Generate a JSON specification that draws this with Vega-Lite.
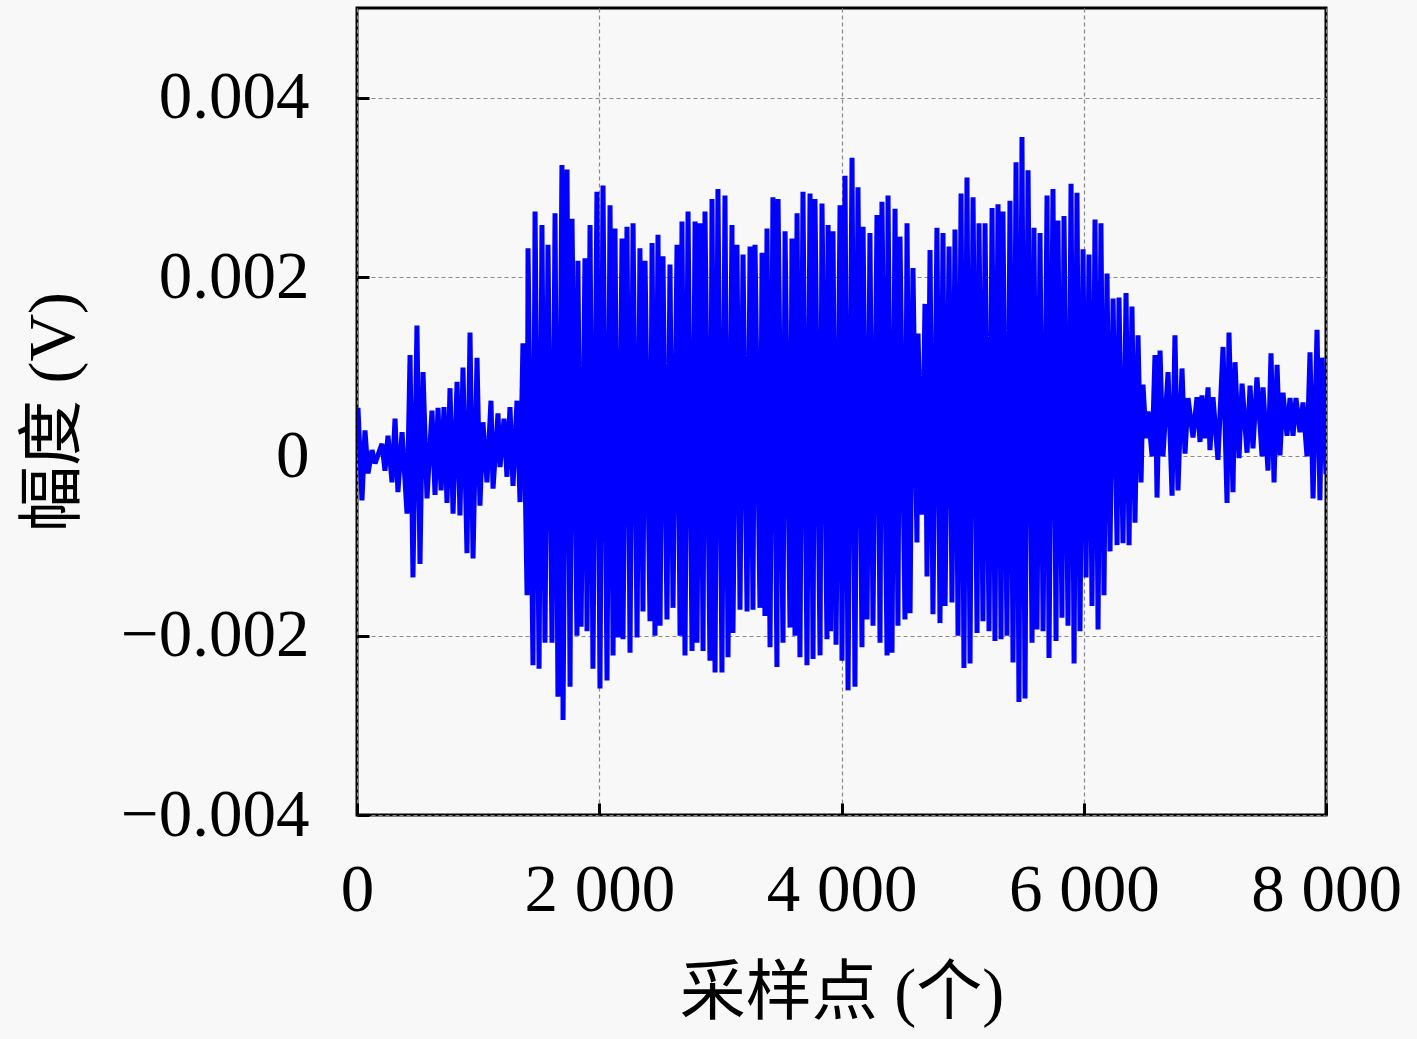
{
  "$schema": "https://vega.github.io/schema/vega-lite/v6.json",
  "width": 969,
  "height": 807,
  "autosize": "none",
  "padding": {"left": 357, "top": 8, "right": 91, "bottom": 224},
  "background": "#f8f8f8",
  "config": {
    "view": {"stroke": "#000000", "strokeWidth": 3},
    "axis": {
      "labelFont": "Liberation Serif",
      "labelFontSize": 67,
      "labelColor": "#000000",
      "labelLimit": 0,
      "titleFont": "Liberation Serif, Noto Sans CJK SC",
      "titleFontSize": 66,
      "titleFontWeight": "normal",
      "titleColor": "#000000",
      "domain": false,
      "tickColor": "#000000",
      "tickWidth": 3,
      "tickSize": -12,
      "gridColor": "#8a8a8a",
      "gridWidth": 1.2,
      "gridDash": [4, 3]
    }
  },
  "data": {
    "values": [
      {"sample": 0, "amplitude": 0.0004},
      {"sample": 8, "amplitude": 0.00054},
      {"sample": 41, "amplitude": -0.00049},
      {"sample": 66, "amplitude": 0.00029},
      {"sample": 91, "amplitude": -0.00019},
      {"sample": 124, "amplitude": 0.00007},
      {"sample": 149, "amplitude": -0.00008},
      {"sample": 206, "amplitude": 0.00014},
      {"sample": 231, "amplitude": -0.00016},
      {"sample": 256, "amplitude": 0.00023},
      {"sample": 289, "amplitude": -0.00029},
      {"sample": 314, "amplitude": 0.00042},
      {"sample": 338, "amplitude": -0.0004},
      {"sample": 372, "amplitude": 0.00027},
      {"sample": 413, "amplitude": -0.00064},
      {"sample": 438, "amplitude": 0.00113},
      {"sample": 462, "amplitude": -0.00135},
      {"sample": 495, "amplitude": 0.00146},
      {"sample": 520, "amplitude": -0.0012},
      {"sample": 545, "amplitude": 0.00094},
      {"sample": 578, "amplitude": -0.00047},
      {"sample": 619, "amplitude": 0.00051},
      {"sample": 644, "amplitude": -0.00043},
      {"sample": 669, "amplitude": 0.00054},
      {"sample": 694, "amplitude": -0.00038},
      {"sample": 718, "amplitude": 0.00055},
      {"sample": 743, "amplitude": -0.00052},
      {"sample": 768, "amplitude": 0.00076},
      {"sample": 793, "amplitude": -0.00064},
      {"sample": 826, "amplitude": 0.00083},
      {"sample": 850, "amplitude": -0.00066},
      {"sample": 875, "amplitude": 0.00099},
      {"sample": 908, "amplitude": -0.00108},
      {"sample": 933, "amplitude": 0.00138},
      {"sample": 958, "amplitude": -0.00114},
      {"sample": 991, "amplitude": 0.0011},
      {"sample": 1015, "amplitude": -0.00055},
      {"sample": 1040, "amplitude": 0.00038},
      {"sample": 1073, "amplitude": -0.00029},
      {"sample": 1106, "amplitude": 0.00062},
      {"sample": 1123, "amplitude": -0.00036},
      {"sample": 1164, "amplitude": 0.00048},
      {"sample": 1181, "amplitude": -0.00012},
      {"sample": 1214, "amplitude": 0.00042},
      {"sample": 1238, "amplitude": -0.00023},
      {"sample": 1263, "amplitude": 0.00055},
      {"sample": 1288, "amplitude": -0.00033},
      {"sample": 1321, "amplitude": 0.00062},
      {"sample": 1346, "amplitude": -0.00051},
      {"sample": 1370, "amplitude": 0.00126},
      {"sample": 1404, "amplitude": -0.00155},
      {"sample": 1412, "amplitude": 0.00232},
      {"sample": 1453, "amplitude": -0.00233},
      {"sample": 1470, "amplitude": 0.00273},
      {"sample": 1503, "amplitude": -0.00237},
      {"sample": 1527, "amplitude": 0.00258},
      {"sample": 1552, "amplitude": -0.00208},
      {"sample": 1577, "amplitude": 0.00236},
      {"sample": 1610, "amplitude": -0.00208},
      {"sample": 1635, "amplitude": 0.00271},
      {"sample": 1659, "amplitude": -0.00268},
      {"sample": 1692, "amplitude": 0.00325},
      {"sample": 1701, "amplitude": -0.00294},
      {"sample": 1734, "amplitude": 0.0032},
      {"sample": 1759, "amplitude": -0.00257},
      {"sample": 1775, "amplitude": 0.00265},
      {"sample": 1816, "amplitude": -0.002},
      {"sample": 1824, "amplitude": 0.00218},
      {"sample": 1850, "amplitude": -0.0019},
      {"sample": 1882, "amplitude": 0.00221},
      {"sample": 1899, "amplitude": -0.00195},
      {"sample": 1924, "amplitude": 0.00258},
      {"sample": 1948, "amplitude": -0.00237},
      {"sample": 1981, "amplitude": 0.00295},
      {"sample": 2006, "amplitude": -0.00259},
      {"sample": 2031, "amplitude": 0.00302},
      {"sample": 2064, "amplitude": -0.0025},
      {"sample": 2089, "amplitude": 0.0028},
      {"sample": 2114, "amplitude": -0.00222},
      {"sample": 2130, "amplitude": 0.00254},
      {"sample": 2155, "amplitude": -0.00202},
      {"sample": 2188, "amplitude": 0.00243},
      {"sample": 2196, "amplitude": -0.00204},
      {"sample": 2229, "amplitude": 0.00256},
      {"sample": 2254, "amplitude": -0.00219},
      {"sample": 2279, "amplitude": 0.0026},
      {"sample": 2312, "amplitude": -0.00202},
      {"sample": 2336, "amplitude": 0.00232},
      {"sample": 2361, "amplitude": -0.00173},
      {"sample": 2378, "amplitude": 0.00218},
      {"sample": 2419, "amplitude": -0.00184},
      {"sample": 2436, "amplitude": 0.00238},
      {"sample": 2460, "amplitude": -0.002},
      {"sample": 2485, "amplitude": 0.00247},
      {"sample": 2502, "amplitude": -0.00189},
      {"sample": 2526, "amplitude": 0.00223},
      {"sample": 2559, "amplitude": -0.00182},
      {"sample": 2584, "amplitude": 0.00214},
      {"sample": 2609, "amplitude": -0.00169},
      {"sample": 2642, "amplitude": 0.00236},
      {"sample": 2667, "amplitude": -0.002},
      {"sample": 2683, "amplitude": 0.00262},
      {"sample": 2708, "amplitude": -0.00222},
      {"sample": 2733, "amplitude": 0.00273},
      {"sample": 2766, "amplitude": -0.00217},
      {"sample": 2791, "amplitude": 0.00262},
      {"sample": 2807, "amplitude": -0.00208},
      {"sample": 2832, "amplitude": 0.0026},
      {"sample": 2857, "amplitude": -0.00217},
      {"sample": 2873, "amplitude": 0.00273},
      {"sample": 2914, "amplitude": -0.00228},
      {"sample": 2931, "amplitude": 0.00287},
      {"sample": 2956, "amplitude": -0.00241},
      {"sample": 2980, "amplitude": 0.00298},
      {"sample": 3013, "amplitude": -0.00241},
      {"sample": 3038, "amplitude": 0.00291},
      {"sample": 3063, "amplitude": -0.00224},
      {"sample": 3096, "amplitude": 0.00258},
      {"sample": 3104, "amplitude": -0.00197},
      {"sample": 3137, "amplitude": 0.00236},
      {"sample": 3162, "amplitude": -0.00171},
      {"sample": 3187, "amplitude": 0.00225},
      {"sample": 3220, "amplitude": -0.00173},
      {"sample": 3245, "amplitude": 0.00234},
      {"sample": 3269, "amplitude": -0.00171},
      {"sample": 3286, "amplitude": 0.00236},
      {"sample": 3327, "amplitude": -0.00169},
      {"sample": 3344, "amplitude": 0.00227},
      {"sample": 3368, "amplitude": -0.00178},
      {"sample": 3385, "amplitude": 0.00254},
      {"sample": 3410, "amplitude": -0.00213},
      {"sample": 3434, "amplitude": 0.00289},
      {"sample": 3467, "amplitude": -0.00235},
      {"sample": 3476, "amplitude": 0.00287},
      {"sample": 3517, "amplitude": -0.00208},
      {"sample": 3534, "amplitude": 0.00251},
      {"sample": 3575, "amplitude": -0.00191},
      {"sample": 3591, "amplitude": 0.00243},
      {"sample": 3616, "amplitude": -0.002},
      {"sample": 3633, "amplitude": 0.00271},
      {"sample": 3657, "amplitude": -0.00224},
      {"sample": 3682, "amplitude": 0.00295},
      {"sample": 3715, "amplitude": -0.00233},
      {"sample": 3740, "amplitude": 0.00293},
      {"sample": 3765, "amplitude": -0.00226},
      {"sample": 3781, "amplitude": 0.00287},
      {"sample": 3823, "amplitude": -0.00222},
      {"sample": 3839, "amplitude": 0.00282},
      {"sample": 3880, "amplitude": -0.00204},
      {"sample": 3889, "amplitude": 0.00258},
      {"sample": 3910, "amplitude": -0.00195},
      {"sample": 3930, "amplitude": 0.00251},
      {"sample": 3955, "amplitude": -0.0021},
      {"sample": 3988, "amplitude": 0.0028},
      {"sample": 4004, "amplitude": -0.00228},
      {"sample": 4029, "amplitude": 0.00313},
      {"sample": 4054, "amplitude": -0.00261},
      {"sample": 4087, "amplitude": 0.00333},
      {"sample": 4111, "amplitude": -0.00257},
      {"sample": 4136, "amplitude": 0.003},
      {"sample": 4169, "amplitude": -0.00213},
      {"sample": 4178, "amplitude": 0.00256},
      {"sample": 4211, "amplitude": -0.00182},
      {"sample": 4235, "amplitude": 0.00249},
      {"sample": 4260, "amplitude": -0.00189},
      {"sample": 4293, "amplitude": 0.00269},
      {"sample": 4318, "amplitude": -0.00208},
      {"sample": 4334, "amplitude": 0.00284},
      {"sample": 4376, "amplitude": -0.00222},
      {"sample": 4384, "amplitude": 0.00291},
      {"sample": 4417, "amplitude": -0.00219},
      {"sample": 4442, "amplitude": 0.00276},
      {"sample": 4466, "amplitude": -0.00189},
      {"sample": 4483, "amplitude": 0.00245},
      {"sample": 4524, "amplitude": -0.00182},
      {"sample": 4541, "amplitude": 0.0026},
      {"sample": 4566, "amplitude": -0.00175},
      {"sample": 4590, "amplitude": 0.0021},
      {"sample": 4623, "amplitude": -0.00096},
      {"sample": 4632, "amplitude": 0.00137},
      {"sample": 4665, "amplitude": -0.00065},
      {"sample": 4689, "amplitude": 0.0017},
      {"sample": 4706, "amplitude": -0.00134},
      {"sample": 4731, "amplitude": 0.0023},
      {"sample": 4755, "amplitude": -0.00176},
      {"sample": 4788, "amplitude": 0.00255},
      {"sample": 4813, "amplitude": -0.00186},
      {"sample": 4838, "amplitude": 0.00249},
      {"sample": 4855, "amplitude": -0.00167},
      {"sample": 4888, "amplitude": 0.00234},
      {"sample": 4912, "amplitude": -0.00163},
      {"sample": 4937, "amplitude": 0.00253},
      {"sample": 4962, "amplitude": -0.002},
      {"sample": 4987, "amplitude": 0.00293},
      {"sample": 5011, "amplitude": -0.00236},
      {"sample": 5036, "amplitude": 0.00311},
      {"sample": 5061, "amplitude": -0.00231},
      {"sample": 5086, "amplitude": 0.00289},
      {"sample": 5119, "amplitude": -0.00197},
      {"sample": 5135, "amplitude": 0.0026},
      {"sample": 5168, "amplitude": -0.00184},
      {"sample": 5185, "amplitude": 0.0026},
      {"sample": 5218, "amplitude": -0.00195},
      {"sample": 5243, "amplitude": 0.00277},
      {"sample": 5267, "amplitude": -0.00206},
      {"sample": 5292, "amplitude": 0.00281},
      {"sample": 5317, "amplitude": -0.00204},
      {"sample": 5333, "amplitude": 0.00273},
      {"sample": 5366, "amplitude": -0.002},
      {"sample": 5391, "amplitude": 0.00285},
      {"sample": 5416, "amplitude": -0.0023},
      {"sample": 5441, "amplitude": 0.00328},
      {"sample": 5465, "amplitude": -0.00274},
      {"sample": 5490, "amplitude": 0.00356},
      {"sample": 5515, "amplitude": -0.0027},
      {"sample": 5540, "amplitude": 0.00319},
      {"sample": 5573, "amplitude": -0.00208},
      {"sample": 5589, "amplitude": 0.00255},
      {"sample": 5614, "amplitude": -0.00193},
      {"sample": 5639, "amplitude": 0.00249},
      {"sample": 5664, "amplitude": -0.00195},
      {"sample": 5697, "amplitude": 0.00291},
      {"sample": 5713, "amplitude": -0.00225},
      {"sample": 5746, "amplitude": 0.00298},
      {"sample": 5771, "amplitude": -0.00206},
      {"sample": 5787, "amplitude": 0.00263},
      {"sample": 5820, "amplitude": -0.0018},
      {"sample": 5837, "amplitude": 0.00268},
      {"sample": 5870, "amplitude": -0.00189},
      {"sample": 5895, "amplitude": 0.00304},
      {"sample": 5920, "amplitude": -0.00231},
      {"sample": 5944, "amplitude": 0.00294},
      {"sample": 5969, "amplitude": -0.00195},
      {"sample": 5994, "amplitude": 0.00231},
      {"sample": 6019, "amplitude": -0.00135},
      {"sample": 6043, "amplitude": 0.00225},
      {"sample": 6068, "amplitude": -0.00167},
      {"sample": 6093, "amplitude": 0.00264},
      {"sample": 6118, "amplitude": -0.00193},
      {"sample": 6142, "amplitude": 0.0026},
      {"sample": 6167, "amplitude": -0.00155},
      {"sample": 6192, "amplitude": 0.00204},
      {"sample": 6217, "amplitude": -0.00106},
      {"sample": 6242, "amplitude": 0.00176},
      {"sample": 6275, "amplitude": -0.00099},
      {"sample": 6291, "amplitude": 0.00177},
      {"sample": 6324, "amplitude": -0.00097},
      {"sample": 6349, "amplitude": 0.00182},
      {"sample": 6374, "amplitude": -0.00099},
      {"sample": 6398, "amplitude": 0.00167},
      {"sample": 6423, "amplitude": -0.00074},
      {"sample": 6448, "amplitude": 0.00135},
      {"sample": 6473, "amplitude": -0.00029},
      {"sample": 6489, "amplitude": 0.0008},
      {"sample": 6514, "amplitude": 0.0002},
      {"sample": 6531, "amplitude": 0.0005},
      {"sample": 6564, "amplitude": 0.0},
      {"sample": 6588, "amplitude": 0.00113},
      {"sample": 6605, "amplitude": -0.00046},
      {"sample": 6630, "amplitude": 0.00118},
      {"sample": 6654, "amplitude": 0.0},
      {"sample": 6696, "amplitude": 0.00094},
      {"sample": 6729, "amplitude": -0.00044},
      {"sample": 6753, "amplitude": 0.00135},
      {"sample": 6778, "amplitude": -0.00038},
      {"sample": 6811, "amplitude": 0.00098},
      {"sample": 6836, "amplitude": 0.00003},
      {"sample": 6861, "amplitude": 0.00065},
      {"sample": 6902, "amplitude": 0.00021},
      {"sample": 6935, "amplitude": 0.00066},
      {"sample": 6960, "amplitude": 0.00016},
      {"sample": 6976, "amplitude": 0.00068},
      {"sample": 7000, "amplitude": 0.0002},
      {"sample": 7026, "amplitude": 0.00077},
      {"sample": 7042, "amplitude": 0.00007},
      {"sample": 7067, "amplitude": 0.00066},
      {"sample": 7108, "amplitude": -0.00004},
      {"sample": 7150, "amplitude": 0.00122},
      {"sample": 7183, "amplitude": -0.00052},
      {"sample": 7199, "amplitude": 0.00138},
      {"sample": 7232, "amplitude": -0.0004},
      {"sample": 7249, "amplitude": 0.00105},
      {"sample": 7282, "amplitude": -0.00002},
      {"sample": 7307, "amplitude": 0.00081},
      {"sample": 7348, "amplitude": 0.00004},
      {"sample": 7373, "amplitude": 0.00079},
      {"sample": 7397, "amplitude": 0.00009},
      {"sample": 7430, "amplitude": 0.00088},
      {"sample": 7472, "amplitude": 0.0},
      {"sample": 7480, "amplitude": 0.00077},
      {"sample": 7521, "amplitude": -0.00016},
      {"sample": 7546, "amplitude": 0.00115},
      {"sample": 7571, "amplitude": -0.00029},
      {"sample": 7596, "amplitude": 0.00102},
      {"sample": 7620, "amplitude": 0.00001},
      {"sample": 7645, "amplitude": 0.00071},
      {"sample": 7678, "amplitude": 0.00023},
      {"sample": 7703, "amplitude": 0.00065},
      {"sample": 7728, "amplitude": 0.00023},
      {"sample": 7752, "amplitude": 0.00065},
      {"sample": 7785, "amplitude": 0.00027},
      {"sample": 7810, "amplitude": 0.0006},
      {"sample": 7843, "amplitude": 0.0},
      {"sample": 7868, "amplitude": 0.00116},
      {"sample": 7893, "amplitude": -0.00047},
      {"sample": 7926, "amplitude": 0.00141},
      {"sample": 7950, "amplitude": -0.00049},
      {"sample": 7967, "amplitude": 0.0011},
      {"sample": 8000, "amplitude": -0.0002}
    ]
  },
  "mark": {"type": "line", "color": "#0000ff", "strokeWidth": 5, "strokeJoin": "miter", "strokeMiterLimit": 1.5, "clip": true},
  "encoding": {
    "x": {
      "field": "sample",
      "type": "quantitative",
      "scale": {"domain": [0, 8000], "nice": false, "zero": false},
      "axis": {
        "values": [0, 2000, 4000, 6000, 8000],
        "labelExpr": "replace(format(datum.value, ','), ',', ' ')",
        "labelPadding": 54,
        "labelFlush": false,
        "title": "采样点 (个)",
        "titlePadding": 38
      }
    },
    "y": {
      "field": "amplitude",
      "type": "quantitative",
      "scale": {"domain": [-0.004, 0.005], "nice": false, "zero": false},
      "axis": {
        "values": [-0.004, -0.002, 0, 0.002, 0.004],
        "labelExpr": "datum.value == 0 ? '0' : format(datum.value, '.3f')",
        "labelPadding": 60,
        "title": "幅度 (V)",
        "titlePadding": 70
      }
    }
  }
}
